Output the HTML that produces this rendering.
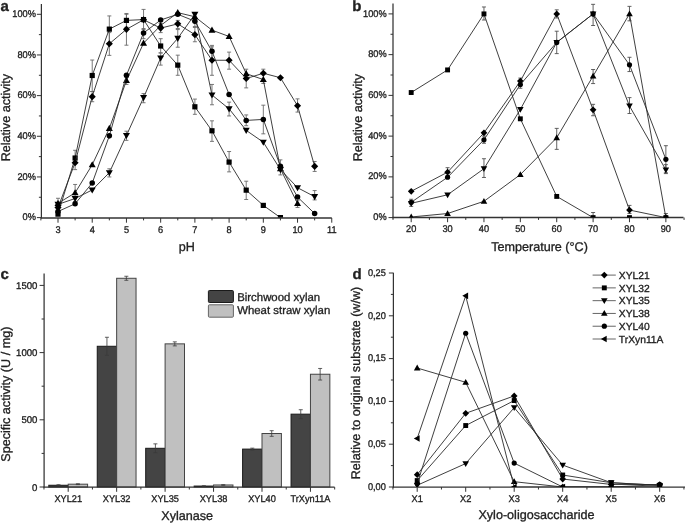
<!DOCTYPE html>
<html><head><meta charset="utf-8"><style>
html,body{margin:0;padding:0;background:#fff;}
body{width:685px;height:523px;overflow:hidden;}
svg{display:block;will-change:transform;}
text{font-family:"Liberation Sans",sans-serif;fill:#222;text-rendering:geometricPrecision;stroke:#1e1e1e;stroke-width:0.32px;}
</style></head><body>
<svg width="685" height="523" viewBox="0 0 685 523">

<path d="M41.4 4V218.2" stroke="#333" stroke-width="1.25" fill="none"/>
<path d="M36.9 217.6H41.4M36.9 176.94H41.4M36.9 136.28H41.4M36.9 95.62H41.4M36.9 54.96H41.4M36.9 14.3H41.4M38.9 197.27H41.4M38.9 156.61H41.4M38.9 115.95H41.4M38.9 75.29H41.4M38.9 34.63H41.4" stroke="#333" stroke-width="1" fill="none"/>
<text transform="translate(35.9 220.2) scale(0.95 1)" font-size="9.7" text-anchor="end">0%</text>
<text transform="translate(35.9 179.54) scale(0.95 1)" font-size="9.7" text-anchor="end">20%</text>
<text transform="translate(35.9 138.88) scale(0.95 1)" font-size="9.7" text-anchor="end">40%</text>
<text transform="translate(35.9 98.22) scale(0.95 1)" font-size="9.7" text-anchor="end">60%</text>
<text transform="translate(35.9 57.56) scale(0.95 1)" font-size="9.7" text-anchor="end">80%</text>
<text transform="translate(35.9 16.9) scale(0.95 1)" font-size="9.7" text-anchor="end">100%</text>
<path d="M40.8 218H331.8" stroke="#333" stroke-width="1.4" fill="none"/>
<path d="M58 218V222.7M92.22 218V222.7M126.44 218V222.7M160.66 218V222.7M194.88 218V222.7M229.1 218V222.7M263.32 218V222.7M297.54 218V222.7M331.76 218V222.7M40.89 218V220.4M75.11 218V220.4M109.33 218V220.4M143.55 218V220.4M177.77 218V220.4M211.99 218V220.4M246.21 218V220.4M280.43 218V220.4M314.65 218V220.4" stroke="#333" stroke-width="1" fill="none"/>
<text transform="translate(58 232.6) scale(0.95 1)" font-size="9.7" text-anchor="middle">3</text>
<text transform="translate(92.22 232.6) scale(0.95 1)" font-size="9.7" text-anchor="middle">4</text>
<text transform="translate(126.44 232.6) scale(0.95 1)" font-size="9.7" text-anchor="middle">5</text>
<text transform="translate(160.66 232.6) scale(0.95 1)" font-size="9.7" text-anchor="middle">6</text>
<text transform="translate(194.88 232.6) scale(0.95 1)" font-size="9.7" text-anchor="middle">7</text>
<text transform="translate(229.1 232.6) scale(0.95 1)" font-size="9.7" text-anchor="middle">8</text>
<text transform="translate(263.32 232.6) scale(0.95 1)" font-size="9.7" text-anchor="middle">9</text>
<text transform="translate(297.54 232.6) scale(0.95 1)" font-size="9.7" text-anchor="middle">10</text>
<text transform="translate(331.76 232.6) scale(0.95 1)" font-size="9.7" text-anchor="middle">11</text>
<g fill="none" stroke="#6a6a6a" stroke-width="0.9"><path d="M92.22 60.04V91.55M90.22 60.04H94.22M90.22 91.55H94.22"/><path d="M109.33 15.93V42.76M107.33 15.93H111.33M107.33 42.76H111.33"/><path d="M109.33 32.6V55.37M107.33 32.6H111.33M107.33 55.37H111.33"/><path d="M126.44 13.49V27.31M124.44 13.49H128.44M124.44 27.31H128.44"/><path d="M126.44 14.3V45.2M124.44 14.3H128.44M124.44 45.2H128.44"/><path d="M143.55 9.42V29.55M141.55 9.42H145.55M141.55 29.55H145.55"/><path d="M75.11 150.31V169.62M73.11 150.31H77.11M73.11 169.62H77.11"/><path d="M75.11 184.46V201.34M73.11 184.46H77.11M73.11 201.34H77.11"/><path d="M177.77 55.16V75.29M175.77 55.16H179.77M175.77 75.29H179.77"/><path d="M160.66 38.7V52.93M158.66 38.7H162.66M158.66 52.93H162.66"/><path d="M177.77 29.55V47.23M175.77 29.55H179.77M175.77 47.23H179.77"/><path d="M194.88 27.51V41.75M192.88 27.51H196.88M192.88 41.75H196.88"/><path d="M211.99 45.4V59.03M209.99 45.4H213.99M209.99 59.03H213.99"/><path d="M211.99 46.83V75.29M209.99 46.83H213.99M209.99 75.29H213.99"/><path d="M229.1 52.11V69.19M227.1 52.11H231.1M227.1 69.19H231.1"/><path d="M211.99 84.44V104.77M209.99 84.44H213.99M209.99 104.77H213.99"/><path d="M246.21 69.19V87.89M244.21 69.19H248.21M244.21 87.89H248.21"/><path d="M263.32 69.19V83.42M261.32 69.19H265.32M261.32 83.42H265.32"/><path d="M263.32 105.18V133.84M261.32 105.18H265.32M261.32 133.84H265.32"/><path d="M246.21 114.93V125.71M244.21 114.93H248.21M244.21 125.71H248.21"/><path d="M297.54 98.87V112.09M295.54 98.87H299.54M295.54 112.09H299.54"/><path d="M194.88 99.08V114.32M192.88 99.08H196.88M192.88 114.32H196.88"/><path d="M211.99 120.83V141.36M209.99 120.83H213.99M209.99 141.36H213.99"/><path d="M229.1 151.53V171.86M227.1 151.53H231.1M227.1 171.86H231.1"/><path d="M246.21 181.21V199.51M244.21 181.21H248.21M244.21 199.51H248.21"/><path d="M280.43 159.86V174.91M278.43 159.86H282.43M278.43 174.91H282.43"/><path d="M314.65 161.49V171.45M312.65 161.49H316.65M312.65 171.45H316.65"/><path d="M314.65 190.56V199.91M312.65 190.56H316.65M312.65 199.91H316.65"/><path d="M297.54 200.32V207.44M295.54 200.32H299.54M295.54 207.44H299.54"/><path d="M229.1 102.13V115.95M227.1 102.13H231.1M227.1 115.95H231.1"/><path d="M160.66 52.93V65.12M158.66 52.93H162.66M158.66 65.12H162.66"/><path d="M143.55 93.59V102.74M141.55 93.59H145.55M141.55 102.74H145.55"/><path d="M177.77 20.4V28.53M175.77 20.4H179.77M175.77 28.53H179.77"/><path d="M194.88 13.28V26.5M192.88 13.28H196.88M192.88 26.5H196.88"/><path d="M58 198.29V211.5M56 198.29H60M56 211.5H60"/><path d="M92.22 91.55V101.72M90.22 91.55H94.22M90.22 101.72H94.22"/><path d="M126.44 131.2V140.35M124.44 131.2H128.44M124.44 140.35H128.44"/><path d="M109.33 168.81V176.94M107.33 168.81H111.33M107.33 176.94H111.33"/><path d="M160.66 23.45V32.6M158.66 23.45H162.66M158.66 32.6H162.66"/><path d="M143.55 28.53V38.7M141.55 28.53H145.55M141.55 38.7H145.55"/><path d="M126.44 77.32V84.44M124.44 77.32H128.44M124.44 84.44H128.44"/></g>
<clipPath id="ca"><rect x="42" y="0" width="298" height="217.6"/></clipPath>
<g fill="none" stroke="#2a2a2a" stroke-width="0.9" clip-path="url(#ca)"><polyline points="58,214.14 75.11,158.03 92.22,75.49 109.33,29.14 126.44,20.4 143.55,19.59 160.66,46.01 177.77,65.12 194.88,106.8 211.99,130.79 229.1,162.1 246.21,190.15 263.32,205.4 280.43,217.6"/></g>
<g fill="#000" clip-path="url(#ca)"><rect x="55.4" y="211.55" width="5.19" height="5.19"/><rect x="72.51" y="155.44" width="5.19" height="5.19"/><rect x="89.62" y="72.9" width="5.19" height="5.19"/><rect x="106.73" y="26.54" width="5.19" height="5.19"/><rect x="123.84" y="17.8" width="5.19" height="5.19"/><rect x="140.95" y="16.99" width="5.19" height="5.19"/><rect x="158.06" y="43.42" width="5.19" height="5.19"/><rect x="175.17" y="62.53" width="5.19" height="5.19"/><rect x="192.28" y="104.2" width="5.19" height="5.19"/><rect x="209.39" y="128.19" width="5.19" height="5.19"/><rect x="226.5" y="159.5" width="5.19" height="5.19"/><rect x="243.61" y="187.56" width="5.19" height="5.19"/><rect x="260.72" y="202.8" width="5.19" height="5.19"/><rect x="277.83" y="215" width="5.19" height="5.19"/></g>
<g fill="none" stroke="#2a2a2a" stroke-width="0.9" clip-path="url(#ca)"><polyline points="58,207.44 75.11,162.71 92.22,96.64 109.33,43.78 126.44,29.34 143.55,19.79 160.66,28.12 177.77,23.86 194.88,34.63 211.99,60.25 229.1,60.25 246.21,78.54 263.32,73.26 280.43,77.73 297.54,105.78 314.65,166.37"/></g>
<g fill="#000" clip-path="url(#ca)"><path d="M58 203.88L61.55 207.44L58 210.99L54.45 207.44Z"/><path d="M75.11 159.16L78.66 162.71L75.11 166.26L71.56 162.71Z"/><path d="M92.22 93.09L95.77 96.64L92.22 100.19L88.67 96.64Z"/><path d="M109.33 40.23L112.88 43.78L109.33 47.33L105.78 43.78Z"/><path d="M126.44 25.79L129.99 29.34L126.44 32.9L122.89 29.34Z"/><path d="M143.55 16.24L147.1 19.79L143.55 23.34L140 19.79Z"/><path d="M160.66 24.57L164.21 28.12L160.66 31.68L157.11 28.12Z"/><path d="M177.77 20.3L181.32 23.86L177.77 27.41L174.22 23.86Z"/><path d="M194.88 31.08L198.43 34.63L194.88 38.18L191.33 34.63Z"/><path d="M211.99 56.69L215.54 60.25L211.99 63.8L208.44 60.25Z"/><path d="M229.1 56.69L232.65 60.25L229.1 63.8L225.55 60.25Z"/><path d="M246.21 74.99L249.76 78.54L246.21 82.09L242.66 78.54Z"/><path d="M263.32 69.71L266.87 73.26L263.32 76.81L259.77 73.26Z"/><path d="M280.43 74.18L283.98 77.73L280.43 81.28L276.88 77.73Z"/><path d="M297.54 102.23L301.09 105.78L297.54 109.34L293.99 105.78Z"/><path d="M314.65 162.82L318.2 166.37L314.65 169.92L311.1 166.37Z"/></g>
<g fill="none" stroke="#2a2a2a" stroke-width="0.9" clip-path="url(#ca)"><polyline points="58,204.39 75.11,198.49 92.22,189.95 109.33,172.67 126.44,135.47 143.55,97.65 160.66,58.01 177.77,38.29 194.88,14.3 211.99,95.01 229.1,108.83 246.21,130.38 263.32,142.18 280.43,169.62 297.54,187.71 314.65,196.66"/></g>
<g fill="#000" clip-path="url(#ca)"><path d="M54.5 201.84L61.5 201.84L58 207.99Z"/><path d="M71.61 195.95L78.61 195.95L75.11 202.09Z"/><path d="M88.72 187.41L95.72 187.41L92.22 193.56Z"/><path d="M105.83 170.13L112.83 170.13L109.33 176.27Z"/><path d="M122.94 132.92L129.94 132.92L126.44 139.07Z"/><path d="M140.05 95.11L147.05 95.11L143.55 101.26Z"/><path d="M157.16 55.47L164.16 55.47L160.66 61.61Z"/><path d="M174.27 35.75L181.27 35.75L177.77 41.89Z"/><path d="M191.38 11.76L198.38 11.76L194.88 17.9Z"/><path d="M208.49 92.47L215.49 92.47L211.99 98.61Z"/><path d="M225.6 106.29L232.6 106.29L229.1 112.44Z"/><path d="M242.71 127.84L249.71 127.84L246.21 133.99Z"/><path d="M259.82 139.63L266.82 139.63L263.32 145.78Z"/><path d="M276.93 167.08L283.93 167.08L280.43 173.23Z"/><path d="M294.04 185.17L301.04 185.17L297.54 191.32Z"/><path d="M311.15 194.12L318.15 194.12L314.65 200.26Z"/></g>
<g fill="none" stroke="#2a2a2a" stroke-width="0.9" clip-path="url(#ca)"><polyline points="58,203.37 75.11,192.8 92.22,164.74 109.33,128.35 126.44,80.58 143.55,43.17 160.66,25.48 177.77,12.67 194.88,16.74 211.99,30.16 229.1,36.46 246.21,73.66 263.32,79.56 280.43,168.81 297.54,203.57"/></g>
<g fill="#000" clip-path="url(#ca)"><path d="M54.5 205.91L61.5 205.91L58 199.76Z"/><path d="M71.61 195.34L78.61 195.34L75.11 189.19Z"/><path d="M88.72 167.29L95.72 167.29L92.22 161.14Z"/><path d="M105.83 130.9L112.83 130.9L109.33 124.75Z"/><path d="M122.94 83.12L129.94 83.12L126.44 76.97Z"/><path d="M140.05 45.71L147.05 45.71L143.55 39.56Z"/><path d="M157.16 28.03L164.16 28.03L160.66 21.88Z"/><path d="M174.27 15.22L181.27 15.22L177.77 9.07Z"/><path d="M191.38 19.28L198.38 19.28L194.88 13.14Z"/><path d="M208.49 32.7L215.49 32.7L211.99 26.55Z"/><path d="M225.6 39L232.6 39L229.1 32.86Z"/><path d="M242.71 76.21L249.71 76.21L246.21 70.06Z"/><path d="M259.82 82.1L266.82 82.1L263.32 75.96Z"/><path d="M276.93 171.35L283.93 171.35L280.43 165.2Z"/><path d="M294.04 206.12L301.04 206.12L297.54 199.97Z"/></g>
<g fill="none" stroke="#2a2a2a" stroke-width="0.9" clip-path="url(#ca)"><polyline points="58,211.5 75.11,203.78 92.22,183.04 109.33,135.87 126.44,75.29 143.55,33 160.66,19.99 177.77,14.3 194.88,21.21 211.99,51.3 229.1,94.4 246.21,120.42 263.32,119.41 280.43,166.37 297.54,197.07 314.65,213.53"/></g>
<g fill="#000" clip-path="url(#ca)"><circle cx="58" cy="211.5" r="2.76"/><circle cx="75.11" cy="203.78" r="2.76"/><circle cx="92.22" cy="183.04" r="2.76"/><circle cx="109.33" cy="135.87" r="2.76"/><circle cx="126.44" cy="75.29" r="2.76"/><circle cx="143.55" cy="33" r="2.76"/><circle cx="160.66" cy="19.99" r="2.76"/><circle cx="177.77" cy="14.3" r="2.76"/><circle cx="194.88" cy="21.21" r="2.76"/><circle cx="211.99" cy="51.3" r="2.76"/><circle cx="229.1" cy="94.4" r="2.76"/><circle cx="246.21" cy="120.42" r="2.76"/><circle cx="263.32" cy="119.41" r="2.76"/><circle cx="280.43" cy="166.37" r="2.76"/><circle cx="297.54" cy="197.07" r="2.76"/><circle cx="314.65" cy="213.53" r="2.76"/></g>
<text x="186.8" y="251.3" font-size="12.6" text-anchor="middle">pH</text>
<text x="10.3" y="117.6" font-size="12.6" text-anchor="middle" transform="rotate(-90 10.3 117.6)">Relative activity</text>
<text x="0.6" y="10.8" font-size="15" text-anchor="start" font-weight="bold">a</text>
<path d="M393 3.6V218.2" stroke="#333" stroke-width="1.25" fill="none"/>
<path d="M388.5 217.6H393M388.5 176.86H393M388.5 136.12H393M388.5 95.38H393M388.5 54.64H393M388.5 13.9H393M390.5 197.23H393M390.5 156.49H393M390.5 115.75H393M390.5 75.01H393M390.5 34.27H393" stroke="#333" stroke-width="1" fill="none"/>
<text transform="translate(386.6 220.2) scale(0.95 1)" font-size="9.7" text-anchor="end">0%</text>
<text transform="translate(386.6 179.46) scale(0.95 1)" font-size="9.7" text-anchor="end">20%</text>
<text transform="translate(386.6 138.72) scale(0.95 1)" font-size="9.7" text-anchor="end">40%</text>
<text transform="translate(386.6 97.98) scale(0.95 1)" font-size="9.7" text-anchor="end">60%</text>
<text transform="translate(386.6 57.24) scale(0.95 1)" font-size="9.7" text-anchor="end">80%</text>
<text transform="translate(386.6 16.5) scale(0.95 1)" font-size="9.7" text-anchor="end">100%</text>
<path d="M392.4 217.5H683.5" stroke="#333" stroke-width="1.4" fill="none"/>
<path d="M411.2 217.5V222.2M447.58 217.5V222.2M483.96 217.5V222.2M520.34 217.5V222.2M556.72 217.5V222.2M593.1 217.5V222.2M629.48 217.5V222.2M665.86 217.5V222.2M393.01 217.5V219.9M429.39 217.5V219.9M465.77 217.5V219.9M502.15 217.5V219.9M538.53 217.5V219.9M574.91 217.5V219.9M611.29 217.5V219.9M647.67 217.5V219.9M684.05 217.5V219.9" stroke="#333" stroke-width="1" fill="none"/>
<text transform="translate(411.2 232.4) scale(0.95 1)" font-size="9.7" text-anchor="middle">20</text>
<text transform="translate(447.58 232.4) scale(0.95 1)" font-size="9.7" text-anchor="middle">30</text>
<text transform="translate(483.96 232.4) scale(0.95 1)" font-size="9.7" text-anchor="middle">40</text>
<text transform="translate(520.34 232.4) scale(0.95 1)" font-size="9.7" text-anchor="middle">50</text>
<text transform="translate(556.72 232.4) scale(0.95 1)" font-size="9.7" text-anchor="middle">60</text>
<text transform="translate(593.1 232.4) scale(0.95 1)" font-size="9.7" text-anchor="middle">70</text>
<text transform="translate(629.48 232.4) scale(0.95 1)" font-size="9.7" text-anchor="middle">80</text>
<text transform="translate(665.86 232.4) scale(0.95 1)" font-size="9.7" text-anchor="middle">90</text>
<g fill="none" stroke="#505050" stroke-width="0.9"><path d="M483.96 6.97V20.01M481.96 6.97H485.96M481.96 20.01H485.96"/><path d="M556.72 9.83V17.97M554.72 9.83H558.72M554.72 17.97H558.72"/><path d="M556.72 31.21V53.62M554.72 31.21H558.72M554.72 53.62H558.72"/><path d="M520.34 78.07V85.19M518.34 78.07H522.34M518.34 85.19H522.34"/><path d="M520.34 81.12V88.25M518.34 81.12H522.34M518.34 88.25H522.34"/><path d="M483.96 158.73V177.47M481.96 158.73H485.96M481.96 177.47H485.96"/><path d="M556.72 128.38V149.36M554.72 128.38H558.72M554.72 149.36H558.72"/><path d="M593.1 4.33V25.51M591.1 4.33H595.1M591.1 25.51H595.1"/><path d="M629.48 6.36V20.83M627.48 6.36H631.48M627.48 20.83H631.48"/><path d="M593.1 69.51V83.57M591.1 69.51H595.1M591.1 83.57H595.1"/><path d="M629.48 57.29V71.55M627.48 57.29H631.48M627.48 71.55H631.48"/><path d="M593.1 104.34V115.75M591.1 104.34H595.1M591.1 115.75H595.1"/><path d="M629.48 97.62V113.51M627.48 97.62H631.48M627.48 113.51H631.48"/><path d="M665.86 145.69V172.79M663.86 145.69H667.86M663.86 172.79H667.86"/><path d="M665.86 164.64V173.6M663.86 164.64H667.86M663.86 173.6H667.86"/><path d="M447.58 167.69V175.84M445.58 167.69H449.58M445.58 175.84H449.58"/><path d="M411.2 199.27V206.4M409.2 199.27H413.2M409.2 206.4H413.2"/><path d="M593.1 212.51V217.6M591.1 212.51H595.1M591.1 217.6H595.1"/><path d="M629.48 205.38V213.53M627.48 205.38H631.48M627.48 213.53H631.48"/><path d="M665.86 213.53V217.6M663.86 213.53H667.86M663.86 217.6H667.86"/><path d="M483.96 136.12V143.25M481.96 136.12H485.96M481.96 143.25H485.96"/></g>
<clipPath id="cb"><rect x="393.6" y="0" width="291.4" height="217.4"/></clipPath>
<g fill="none" stroke="#2a2a2a" stroke-width="0.9" clip-path="url(#cb)"><polyline points="411.2,92.53 447.58,69.92 483.96,13.9 520.34,118.81 556.72,196.42 593.1,217.6 629.48,217.6 665.86,217.6"/></g>
<g fill="#000" clip-path="url(#cb)"><rect x="408.75" y="90.08" width="4.9" height="4.9"/><rect x="445.13" y="67.47" width="4.9" height="4.9"/><rect x="481.51" y="11.45" width="4.9" height="4.9"/><rect x="517.89" y="116.36" width="4.9" height="4.9"/><rect x="554.27" y="193.97" width="4.9" height="4.9"/><rect x="590.65" y="215.15" width="4.9" height="4.9"/><rect x="627.03" y="215.15" width="4.9" height="4.9"/><rect x="663.41" y="215.15" width="4.9" height="4.9"/></g>
<g fill="none" stroke="#2a2a2a" stroke-width="0.9" clip-path="url(#cb)"><polyline points="411.2,191.32 447.58,172.17 483.96,132.86 520.34,81.12 556.72,13.9 593.1,109.84 629.48,210.06 665.86,217.6"/></g>
<g fill="#000" clip-path="url(#cb)"><path d="M411.2 187.97L414.55 191.32L411.2 194.67L407.85 191.32Z"/><path d="M447.58 168.82L450.93 172.17L447.58 175.52L444.23 172.17Z"/><path d="M483.96 129.51L487.31 132.86L483.96 136.21L480.61 132.86Z"/><path d="M520.34 77.77L523.69 81.12L520.34 84.47L516.99 81.12Z"/><path d="M556.72 10.55L560.07 13.9L556.72 17.25L553.37 13.9Z"/><path d="M593.1 106.49L596.45 109.84L593.1 113.19L589.75 109.84Z"/><path d="M629.48 206.71L632.83 210.06L629.48 213.41L626.13 210.06Z"/><path d="M665.86 214.25L669.21 217.6L665.86 220.95L662.51 217.6Z"/></g>
<g fill="none" stroke="#2a2a2a" stroke-width="0.9" clip-path="url(#cb)"><polyline points="411.2,203.34 447.58,194.79 483.96,168.71 520.34,109.44 556.72,42.42 593.1,13.9 629.48,105.97 665.86,169.93"/></g>
<g fill="#000" clip-path="url(#cb)"><path d="M407.9 200.94L414.5 200.94L411.2 206.74Z"/><path d="M444.28 192.39L450.88 192.39L447.58 198.19Z"/><path d="M480.66 166.31L487.26 166.31L483.96 172.11Z"/><path d="M517.04 107.04L523.64 107.04L520.34 112.84Z"/><path d="M553.42 40.02L560.02 40.02L556.72 45.82Z"/><path d="M589.8 11.5L596.4 11.5L593.1 17.3Z"/><path d="M626.18 103.57L632.78 103.57L629.48 109.37Z"/><path d="M662.56 167.53L669.16 167.53L665.86 173.33Z"/></g>
<g fill="none" stroke="#2a2a2a" stroke-width="0.9" clip-path="url(#cb)"><polyline points="411.2,216.99 447.58,213.53 483.96,201.3 520.34,174.62 556.72,137.75 593.1,76.03 629.48,13.9 665.86,217.6"/></g>
<g fill="#000" clip-path="url(#cb)"><path d="M407.9 219.39L414.5 219.39L411.2 213.59Z"/><path d="M444.28 215.93L450.88 215.93L447.58 210.13Z"/><path d="M480.66 203.7L487.26 203.7L483.96 197.9Z"/><path d="M517.04 177.02L523.64 177.02L520.34 171.22Z"/><path d="M553.42 140.15L560.02 140.15L556.72 134.35Z"/><path d="M589.8 78.43L596.4 78.43L593.1 72.63Z"/><path d="M626.18 16.3L632.78 16.3L629.48 10.5Z"/><path d="M662.56 220L669.16 220L665.86 214.2Z"/></g>
<g fill="none" stroke="#2a2a2a" stroke-width="0.9" clip-path="url(#cb)"><polyline points="411.2,202.32 447.58,177.27 483.96,139.79 520.34,84.58 556.72,42.42 593.1,13.9 629.48,64.82 665.86,159.34"/></g>
<g fill="#000" clip-path="url(#cb)"><circle cx="411.2" cy="202.32" r="2.6"/><circle cx="447.58" cy="177.27" r="2.6"/><circle cx="483.96" cy="139.79" r="2.6"/><circle cx="520.34" cy="84.58" r="2.6"/><circle cx="556.72" cy="42.42" r="2.6"/><circle cx="593.1" cy="13.9" r="2.6"/><circle cx="629.48" cy="64.82" r="2.6"/><circle cx="665.86" cy="159.34" r="2.6"/></g>
<text x="539.5" y="251.2" font-size="12.6" text-anchor="middle">Temperature (°C)</text>
<text x="362.5" y="117.6" font-size="12.6" text-anchor="middle" transform="rotate(-90 362.5 117.6)">Relative activity</text>
<text x="352.2" y="11" font-size="15" text-anchor="start" font-weight="bold">b</text>
<path d="M44.1 273.5V487.6" stroke="#333" stroke-width="1.25" fill="none"/>
<path d="M39.6 487H44.1M39.6 419.8H44.1M39.6 352.6H44.1M39.6 285.4H44.1M41.6 453.4H44.1M41.6 386.2H44.1M41.6 319H44.1" stroke="#333" stroke-width="1" fill="none"/>
<text transform="translate(37.4 490.5) scale(0.99 1)" font-size="9.7" text-anchor="end">0</text>
<text transform="translate(37.4 423.3) scale(0.99 1)" font-size="9.7" text-anchor="end">500</text>
<text transform="translate(37.4 356.1) scale(0.99 1)" font-size="9.7" text-anchor="end">1000</text>
<text transform="translate(37.4 288.9) scale(0.99 1)" font-size="9.7" text-anchor="end">1500</text>
<rect x="48.8" y="485.25" width="19.4" height="1.75" fill="#444" stroke="#1a1a1a" stroke-width="1"/><rect x="68.2" y="484.18" width="19.4" height="2.82" fill="#c0c0c0" stroke="#444" stroke-width="1"/><rect x="97.25" y="346.28" width="19.4" height="140.72" fill="#444" stroke="#1a1a1a" stroke-width="1"/><rect x="116.65" y="278.28" width="19.4" height="208.72" fill="#c0c0c0" stroke="#444" stroke-width="1"/><rect x="145.7" y="448.29" width="19.4" height="38.71" fill="#444" stroke="#1a1a1a" stroke-width="1"/><rect x="165.1" y="343.86" width="19.4" height="143.14" fill="#c0c0c0" stroke="#444" stroke-width="1"/><rect x="194.15" y="486.06" width="19.4" height="0.94" fill="#444" stroke="#1a1a1a" stroke-width="1"/><rect x="213.55" y="484.98" width="19.4" height="2.02" fill="#c0c0c0" stroke="#444" stroke-width="1"/><rect x="242.6" y="449.1" width="19.4" height="37.9" fill="#444" stroke="#1a1a1a" stroke-width="1"/><rect x="262" y="433.51" width="19.4" height="53.49" fill="#c0c0c0" stroke="#444" stroke-width="1"/><rect x="291.05" y="414.16" width="19.4" height="72.84" fill="#444" stroke="#1a1a1a" stroke-width="1"/><rect x="310.45" y="374.24" width="19.4" height="112.76" fill="#c0c0c0" stroke="#444" stroke-width="1"/>
<g fill="none" stroke="#3a3a3a" stroke-width="0.8"><path d="M58.5 484.72V485.79M56.5 484.72H60.5M56.5 485.79H60.5"/><path d="M77.9 483.77V484.58M75.9 483.77H79.9M75.9 484.58H79.9"/><path d="M106.95 337.28V355.29M104.95 337.28H108.95M104.95 355.29H108.95"/><path d="M126.35 276.26V280.29M124.35 276.26H128.35M124.35 280.29H128.35"/><path d="M155.4 443.86V452.73M153.4 443.86H157.4M153.4 452.73H157.4"/><path d="M174.8 341.85V345.88M172.8 341.85H176.8M172.8 345.88H176.8"/><path d="M203.85 485.79V486.33M201.85 485.79H205.85M201.85 486.33H205.85"/><path d="M223.25 484.72V485.25M221.25 484.72H225.25M221.25 485.25H225.25"/><path d="M252.3 448.16V450.04M250.3 448.16H254.3M250.3 450.04H254.3"/><path d="M271.7 430.69V436.33M269.7 430.69H273.7M269.7 436.33H273.7"/><path d="M300.75 409.72V418.59M298.75 409.72H302.75M298.75 418.59H302.75"/><path d="M320.15 368.46V380.02M318.15 368.46H322.15M318.15 380.02H322.15"/></g>
<path d="M43.5 487.1H334.6" stroke="#333" stroke-width="1.4" fill="none"/>
<path d="M68.2 487.1V491.8M116.65 487.1V491.8M165.1 487.1V491.8M213.55 487.1V491.8M262 487.1V491.8M310.45 487.1V491.8M43.98 487.1V489.5M92.43 487.1V489.5M140.88 487.1V489.5M189.32 487.1V489.5M237.78 487.1V489.5M286.23 487.1V489.5M334.68 487.1V489.5" stroke="#333" stroke-width="1" fill="none"/>
<text transform="translate(68.2 501.8) scale(0.95 1)" font-size="9.7" text-anchor="middle">XYL21</text>
<text transform="translate(116.65 501.8) scale(0.95 1)" font-size="9.7" text-anchor="middle">XYL32</text>
<text transform="translate(165.1 501.8) scale(0.95 1)" font-size="9.7" text-anchor="middle">XYL35</text>
<text transform="translate(213.55 501.8) scale(0.95 1)" font-size="9.7" text-anchor="middle">XYL38</text>
<text transform="translate(262 501.8) scale(0.95 1)" font-size="9.7" text-anchor="middle">XYL40</text>
<text transform="translate(310.45 501.8) scale(0.95 1)" font-size="9.7" text-anchor="middle">TrXyn11A</text>
<rect x="208.4" y="290.5" width="25" height="12" rx="1" fill="#444" stroke="#1a1a1a" stroke-width="1"/>
<rect x="208.4" y="304.8" width="25" height="12.4" rx="1" fill="#c0c0c0" stroke="#666" stroke-width="1"/>
<text x="237.2" y="300.6" font-size="11.4" text-anchor="start">Birchwood xylan</text>
<text x="237.2" y="314.2" font-size="11.4" text-anchor="start">Wheat straw xylan</text>
<text x="187.2" y="520.4" font-size="12.6" text-anchor="middle">Xylanase</text>
<text x="10.4" y="394.2" font-size="12.6" text-anchor="middle" transform="rotate(-90 10.4 394.2)">Specific activity (U / mg)</text>
<text x="0.6" y="278.9" font-size="15" text-anchor="start" font-weight="bold">c</text>
<path d="M393.4 272.8V487.6" stroke="#333" stroke-width="1.25" fill="none"/>
<path d="M388.9 487H393.4M388.9 444.2H393.4M388.9 401.4H393.4M388.9 358.6H393.4M388.9 315.8H393.4M388.9 273H393.4M390.9 465.6H393.4M390.9 422.8H393.4M390.9 380H393.4M390.9 337.2H393.4M390.9 294.4H393.4" stroke="#333" stroke-width="1" fill="none"/>
<text transform="translate(385.8 489.8) scale(0.95 1)" font-size="9.7" text-anchor="end">0,00</text>
<text transform="translate(385.8 447) scale(0.95 1)" font-size="9.7" text-anchor="end">0,05</text>
<text transform="translate(385.8 404.2) scale(0.95 1)" font-size="9.7" text-anchor="end">0,10</text>
<text transform="translate(385.8 361.4) scale(0.95 1)" font-size="9.7" text-anchor="end">0,15</text>
<text transform="translate(385.8 318.6) scale(0.95 1)" font-size="9.7" text-anchor="end">0,20</text>
<text transform="translate(385.8 275.8) scale(0.95 1)" font-size="9.7" text-anchor="end">0,25</text>
<path d="M392.8 487.1H685" stroke="#333" stroke-width="1.4" fill="none"/>
<path d="M417.2 487.1V491.8M465.7 487.1V491.8M514.2 487.1V491.8M562.7 487.1V491.8M611.2 487.1V491.8M659.7 487.1V491.8M392.95 487.1V489.5M441.45 487.1V489.5M489.95 487.1V489.5M538.45 487.1V489.5M586.95 487.1V489.5M635.45 487.1V489.5M683.95 487.1V489.5" stroke="#333" stroke-width="1" fill="none"/>
<text transform="translate(417.2 501.6) scale(0.95 1)" font-size="9.7" text-anchor="middle">X1</text>
<text transform="translate(465.7 501.6) scale(0.95 1)" font-size="9.7" text-anchor="middle">X2</text>
<text transform="translate(514.2 501.6) scale(0.95 1)" font-size="9.7" text-anchor="middle">X3</text>
<text transform="translate(562.7 501.6) scale(0.95 1)" font-size="9.7" text-anchor="middle">X4</text>
<text transform="translate(611.2 501.6) scale(0.95 1)" font-size="9.7" text-anchor="middle">X5</text>
<text transform="translate(659.7 501.6) scale(0.95 1)" font-size="9.7" text-anchor="middle">X6</text>
<clipPath id="cd"><rect x="394" y="262" width="291" height="224.9"/></clipPath>
<g fill="none" stroke="#2a2a2a" stroke-width="0.9" clip-path="url(#cd)"><polyline points="417.2,474.67 465.7,413.3 514.2,395.92 562.7,479.04 611.2,484.43 659.7,484.69"/></g>
<g fill="#000" clip-path="url(#cd)"><path d="M417.2 471.32L420.55 474.67L417.2 478.02L413.85 474.67Z"/><path d="M465.7 409.95L469.05 413.3L465.7 416.65L462.35 413.3Z"/><path d="M514.2 392.57L517.55 395.92L514.2 399.27L510.85 395.92Z"/><path d="M562.7 475.69L566.05 479.04L562.7 482.39L559.35 479.04Z"/><path d="M611.2 481.08L614.55 484.43L611.2 487.78L607.85 484.43Z"/><path d="M659.7 481.34L663.05 484.69L659.7 488.04L656.35 484.69Z"/></g>
<g fill="none" stroke="#2a2a2a" stroke-width="0.9" clip-path="url(#cd)"><polyline points="417.2,480.58 465.7,425.54 514.2,400.54 562.7,475.02 611.2,482.72 659.7,485.29"/></g>
<g fill="#000" clip-path="url(#cd)"><rect x="414.75" y="478.13" width="4.9" height="4.9"/><rect x="463.25" y="423.09" width="4.9" height="4.9"/><rect x="511.75" y="398.09" width="4.9" height="4.9"/><rect x="560.25" y="472.57" width="4.9" height="4.9"/><rect x="608.75" y="480.27" width="4.9" height="4.9"/><rect x="657.25" y="482.84" width="4.9" height="4.9"/></g>
<g fill="none" stroke="#2a2a2a" stroke-width="0.9" clip-path="url(#cd)"><polyline points="417.2,485.29 465.7,463.55 514.2,407.65 562.7,465.09 611.2,482.72 659.7,485.29"/></g>
<g fill="#000" clip-path="url(#cd)"><path d="M413.9 482.89L420.5 482.89L417.2 488.69Z"/><path d="M462.4 461.15L469 461.15L465.7 466.95Z"/><path d="M510.9 405.25L517.5 405.25L514.2 411.05Z"/><path d="M559.4 462.69L566 462.69L562.7 468.49Z"/><path d="M607.9 480.32L614.5 480.32L611.2 486.12Z"/><path d="M656.4 482.89L663 482.89L659.7 488.69Z"/></g>
<g fill="none" stroke="#2a2a2a" stroke-width="0.9" clip-path="url(#cd)"><polyline points="417.2,368.02 465.7,382.31 514.2,481.69 562.7,487 611.2,487 659.7,487"/></g>
<g fill="#000" clip-path="url(#cd)"><path d="M413.9 370.42L420.5 370.42L417.2 364.62Z"/><path d="M462.4 384.71L469 384.71L465.7 378.91Z"/><path d="M510.9 484.09L517.5 484.09L514.2 478.29Z"/><path d="M559.4 489.4L566 489.4L562.7 483.6Z"/><path d="M607.9 489.4L614.5 489.4L611.2 483.6Z"/><path d="M656.4 489.4L663 489.4L659.7 483.6Z"/></g>
<g fill="none" stroke="#2a2a2a" stroke-width="0.9" clip-path="url(#cd)"><polyline points="417.2,483.58 465.7,333.26 514.2,463.12 562.7,487 611.2,487 659.7,484.69"/></g>
<g fill="#000" clip-path="url(#cd)"><circle cx="417.2" cy="483.58" r="2.6"/><circle cx="465.7" cy="333.26" r="2.6"/><circle cx="514.2" cy="463.12" r="2.6"/><circle cx="562.7" cy="487" r="2.6"/><circle cx="611.2" cy="487" r="2.6"/><circle cx="659.7" cy="484.69" r="2.6"/></g>
<g fill="none" stroke="#2a2a2a" stroke-width="0.9" clip-path="url(#cd)"><polyline points="417.2,438.46 465.7,295.86 514.2,487 562.7,487 611.2,487 659.7,487"/></g>
<g fill="#000" clip-path="url(#cd)"><path d="M419.6 435.16L419.6 441.76L413.8 438.46Z"/><path d="M468.1 292.56L468.1 299.16L462.3 295.86Z"/><path d="M516.6 483.7L516.6 490.3L510.8 487Z"/><path d="M565.1 483.7L565.1 490.3L559.3 487Z"/><path d="M613.6 483.7L613.6 490.3L607.8 487Z"/><path d="M662.1 483.7L662.1 490.3L656.3 487Z"/></g>
<path d="M592.6 275.1H615.8" stroke="#555" stroke-width="0.9" fill="none"/>
<g fill="#000"><path d="M604.3 271.75L607.65 275.1L604.3 278.45L600.95 275.1Z"/></g>
<text x="618.8" y="278.9" font-size="10.3" text-anchor="start">XYL21</text>
<path d="M592.6 287.88H615.8" stroke="#555" stroke-width="0.9" fill="none"/>
<g fill="#000"><rect x="601.85" y="285.43" width="4.9" height="4.9"/></g>
<text x="618.8" y="291.68" font-size="10.3" text-anchor="start">XYL32</text>
<path d="M592.6 300.66H615.8" stroke="#555" stroke-width="0.9" fill="none"/>
<g fill="#000"><path d="M601 298.26L607.6 298.26L604.3 304.06Z"/></g>
<text x="618.8" y="304.46" font-size="10.3" text-anchor="start">XYL35</text>
<path d="M592.6 313.44H615.8" stroke="#555" stroke-width="0.9" fill="none"/>
<g fill="#000"><path d="M601 315.84L607.6 315.84L604.3 310.04Z"/></g>
<text x="618.8" y="317.24" font-size="10.3" text-anchor="start">XYL38</text>
<path d="M592.6 326.22H615.8" stroke="#555" stroke-width="0.9" fill="none"/>
<g fill="#000"><circle cx="604.3" cy="326.22" r="2.6"/></g>
<text x="618.8" y="330.02" font-size="10.3" text-anchor="start">XYL40</text>
<path d="M592.6 339H615.8" stroke="#555" stroke-width="0.9" fill="none"/>
<g fill="#000"><path d="M606.7 335.7L606.7 342.3L600.9 339Z"/></g>
<text x="618.8" y="342.8" font-size="10.3" text-anchor="start">TrXyn11A</text>
<text x="536.5" y="518.8" font-size="12.6" text-anchor="middle">Xylo-oligosaccharide</text>
<text x="359.7" y="383" font-size="12.6" text-anchor="middle" transform="rotate(-90 359.7 383)">Relative to original substrate (w/w)</text>
<text x="352.4" y="278.8" font-size="15" text-anchor="start" font-weight="bold">d</text>
</svg>
</body></html>
